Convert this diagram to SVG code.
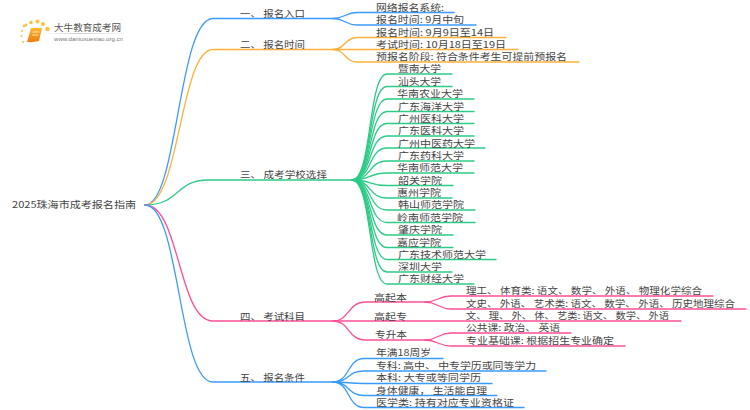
<svg xmlns="http://www.w3.org/2000/svg" width="750" height="410" viewBox="0 0 750 410">
<defs>
<linearGradient id="bk" x1="0" y1="0" x2="0" y2="1"><stop offset="0" stop-color="#fdb52e"/><stop offset="1" stop-color="#ee7d12"/></linearGradient>
<linearGradient id="ln" x1="0" y1="0" x2="1" y2="0"><stop offset="0" stop-color="#ddd" stop-opacity="0"/><stop offset=".4" stop-color="#ccc"/><stop offset="1" stop-color="#ddd" stop-opacity="0"/></linearGradient>
</defs>
<style>
text{font-family:"Noto Sans CJK SC","Liberation Sans",sans-serif;font-size:9.2px;fill:#444}
path{fill:none;stroke-width:1.3;stroke-linecap:round}
.b{stroke:#3a9bff}.o{stroke:#fdb13a}.g{stroke:#2ccb86}.p{stroke:#ff4f97}.n{stroke:#3a9bff}
.d{fill:#fcc13f}
</style>
<rect width="750" height="410" fill="#fff"/>
<g id="logo">
<circle class="d" cx="24" cy="26" r="1.3"/><circle class="d" cx="22" cy="31" r="1.1"/><circle class="d" cx="23" cy="42" r="1"/><circle class="d" cx="26" cy="25" r="1.5"/><circle class="d" cx="31" cy="22.5" r="1.8"/><circle class="d" cx="37.5" cy="21.5" r="2"/><circle class="d" cx="43" cy="24" r="2"/><circle class="d" cx="47.5" cy="29" r="2.2"/><circle class="d" cx="21.5" cy="36" r="1"/>
<path d="M31,28 H42 L39,41 Q34,42.500 27,42 Z" style="fill:url(#bk);stroke:none"/>
<path d="M33,32 H39 M32.500,35 H38" style="stroke:#ffe2a8;stroke-width:1"/>
<text x="54" y="30.500" style="font-size:9.500px;fill:#555" textLength="67" lengthAdjust="spacingAndGlyphs">大牛教育成考网</text>
<rect x="42" y="33" width="92" height="1" fill="url(#ln)"/>
<text x="54" y="41" style="font-family:'Liberation Sans',sans-serif;font-size:6px;fill:#777" textLength="69" lengthAdjust="spacingAndGlyphs">www.daniuxuexiao.org.cn</text>
</g>
<g id="connectors">
<path class="b" d="M145,205 C178,205 178,18.500 213,18.500 H333"/>
<path class="o" d="M145,205 C180,205 180,49.500 213,49.500 H333"/>
<path class="g" d="M145,205 C180,205 175,180 208,180 H352"/>
<path class="p" d="M145,205 C180,205 178,321 213,321 H333"/>
<path class="n" d="M145,205 C180,205 178,382 213,382 H333"/>
<path class="b" d="M333,18.500 C345,18.500 345,12.500 357,12.500 H454"/>
<path class="b" d="M333,18.500 C345,18.500 345,25 357,25 H476"/>
<path class="o" d="M333,49.500 C345,49.500 345,37.500 357,37.500 H506"/>
<path class="o" d="M333,49.500 H518"/>
<path class="o" d="M333,49.500 C345,49.500 345,62 357,62 H579"/>
<path class="g" d="M352,180 C372,180 368,74 387,74 H452"/>
<path class="g" d="M352,180 C372,180 368,86.500 387,86.500 H452"/>
<path class="g" d="M352,180 C372,180 368,99 387,99 H474"/>
<path class="g" d="M352,180 C372,180 368,111.500 387,111.500 H474"/>
<path class="g" d="M352,180 C372,180 368,123.500 387,123.500 H474"/>
<path class="g" d="M352,180 C372,180 368,136 387,136 H474"/>
<path class="g" d="M352,180 C372,180 368,148 387,148 H485"/>
<path class="g" d="M352,180 C372,180 368,161 387,161 H474"/>
<path class="g" d="M352,180 C372,180 368,173 387,173 H474"/>
<path class="g" d="M352,180 C372,180 368,185.500 387,185.500 H453"/>
<path class="g" d="M352,180 C372,180 368,198 387,198 H452"/>
<path class="g" d="M352,180 C372,180 368,210 387,210 H475"/>
<path class="g" d="M352,180 C372,180 368,222.500 387,222.500 H475"/>
<path class="g" d="M352,180 C372,180 368,235 387,235 H453"/>
<path class="g" d="M352,180 C372,180 368,247.500 387,247.500 H453"/>
<path class="g" d="M352,180 C372,180 368,259.500 387,259.500 H496"/>
<path class="g" d="M352,180 C372,180 368,272 387,272 H452"/>
<path class="g" d="M352,180 C372,180 368,284 387,284 H474"/>
<path class="p" d="M333,321 C350,321 347,302 366,302 H425"/>
<path class="p" d="M333,321 H681"/>
<path class="p" d="M333,321 C350,321 347,340 366,340 H425"/>
<path class="p" d="M425,302 C438,302 438,296 451,296 H713"/>
<path class="p" d="M425,302 C438,302 438,309 451,309 H746"/>
<path class="p" d="M425,340 C438,340 438,333 451,333 H571"/>
<path class="p" d="M425,340 C438,340 438,346 451,346 H625"/>
<path class="n" d="M333,382 C350,382 347,358.500 364,358.500 H443"/>
<path class="n" d="M333,382 C350,382 347,371 364,371 H546"/>
<path class="n" d="M333,382 C350,382 347,383.500 364,383.500 H492"/>
<path class="n" d="M333,382 C350,382 347,395.500 364,395.500 H497"/>
<path class="n" d="M333,382 C350,382 347,407.500 364,407.500 H524"/>
</g>
<g id="root"><text x="12" y="208" textLength="124" lengthAdjust="spacingAndGlyphs">2025珠海市成考报名指南</text></g>
<g id="n1"><text x="240" y="17" textLength="65" lengthAdjust="spacingAndGlyphs">一、 报名入口</text>
<text x="376" y="10.500" textLength="68" lengthAdjust="spacingAndGlyphs">网络报名系统:</text>
<text x="376" y="23" textLength="88" lengthAdjust="spacingAndGlyphs">报名时间: 9月中旬</text></g>
<g id="n2"><text x="240" y="48" textLength="65" lengthAdjust="spacingAndGlyphs">二、 报名时间</text>
<text x="376" y="35.500" textLength="118" lengthAdjust="spacingAndGlyphs">报名时间: 9月9日至14日</text>
<text x="376" y="47.500" textLength="130" lengthAdjust="spacingAndGlyphs">考试时间: 10月18日至19日</text>
<text x="376" y="60" textLength="191" lengthAdjust="spacingAndGlyphs">预报名阶段: 符合条件考生可提前预报名</text></g>
<g id="n3"><text x="240" y="178" textLength="87" lengthAdjust="spacingAndGlyphs">三、 成考学校选择</text>
<text x="398" y="72" textLength="43" lengthAdjust="spacingAndGlyphs">暨南大学</text>
<text x="398" y="84.500" textLength="43" lengthAdjust="spacingAndGlyphs">汕头大学</text>
<text x="397" y="97" textLength="66" lengthAdjust="spacingAndGlyphs">华南农业大学</text>
<text x="398" y="109.500" textLength="66" lengthAdjust="spacingAndGlyphs">广东海洋大学</text>
<text x="398" y="121.500" textLength="66" lengthAdjust="spacingAndGlyphs">广州医科大学</text>
<text x="398" y="134" textLength="66" lengthAdjust="spacingAndGlyphs">广东医科大学</text>
<text x="398" y="146.500" textLength="77" lengthAdjust="spacingAndGlyphs">广州中医药大学</text>
<text x="398" y="159" textLength="66" lengthAdjust="spacingAndGlyphs">广东药科大学</text>
<text x="397" y="171" textLength="66" lengthAdjust="spacingAndGlyphs">华南师范大学</text>
<text x="398" y="183.500" textLength="44" lengthAdjust="spacingAndGlyphs">韶关学院</text>
<text x="397" y="196" textLength="44" lengthAdjust="spacingAndGlyphs">惠州学院</text>
<text x="398" y="208" textLength="66" lengthAdjust="spacingAndGlyphs">韩山师范学院</text>
<text x="397" y="220.500" textLength="66" lengthAdjust="spacingAndGlyphs">岭南师范学院</text>
<text x="398" y="233" textLength="44" lengthAdjust="spacingAndGlyphs">肇庆学院</text>
<text x="397" y="245.500" textLength="44" lengthAdjust="spacingAndGlyphs">嘉应学院</text>
<text x="398" y="257.500" textLength="88" lengthAdjust="spacingAndGlyphs">广东技术师范大学</text>
<text x="398" y="270" textLength="44" lengthAdjust="spacingAndGlyphs">深圳大学</text>
<text x="398" y="282" textLength="66" lengthAdjust="spacingAndGlyphs">广东财经大学</text></g>
<g id="n4"><text x="240" y="319.500" textLength="65" lengthAdjust="spacingAndGlyphs">四、 考试科目</text>
<text x="374" y="300.500" textLength="33" lengthAdjust="spacingAndGlyphs">高起本</text>
<text x="374" y="319.500" textLength="33" lengthAdjust="spacingAndGlyphs">高起专</text>
<text x="375" y="338" textLength="32" lengthAdjust="spacingAndGlyphs">专升本</text>
<text x="466" y="294" textLength="236" lengthAdjust="spacingAndGlyphs">理工、 体育类: 语文、 数学、 外语、 物理化学综合</text>
<text x="466" y="307" textLength="269" lengthAdjust="spacingAndGlyphs">文史、 外语、 艺术类: 语文、 数学、 外语、 历史地理综合</text>
<text x="466" y="319" textLength="203" lengthAdjust="spacingAndGlyphs">文、 理、 外、 体、 艺类: 语文、 数学、 外语</text>
<text x="466" y="331" textLength="94" lengthAdjust="spacingAndGlyphs">公共课: 政治、 英语</text>
<text x="466" y="344" textLength="148" lengthAdjust="spacingAndGlyphs">专业基础课: 根据招生专业确定</text></g>
<g id="n5"><text x="240" y="380.500" textLength="65" lengthAdjust="spacingAndGlyphs">五、 报名条件</text>
<text x="376" y="356" textLength="55" lengthAdjust="spacingAndGlyphs">年满18周岁</text>
<text x="376" y="369" textLength="160" lengthAdjust="spacingAndGlyphs">专科: 高中、 中专学历或同等学力</text>
<text x="376" y="381" textLength="105" lengthAdjust="spacingAndGlyphs">本科: 大专或等同学历</text>
<text x="376" y="393.500" textLength="111" lengthAdjust="spacingAndGlyphs">身体健康， 生活能自理</text>
<text x="376" y="405.500" textLength="138" lengthAdjust="spacingAndGlyphs">医学类: 持有对应专业资格证</text></g>
</svg>
